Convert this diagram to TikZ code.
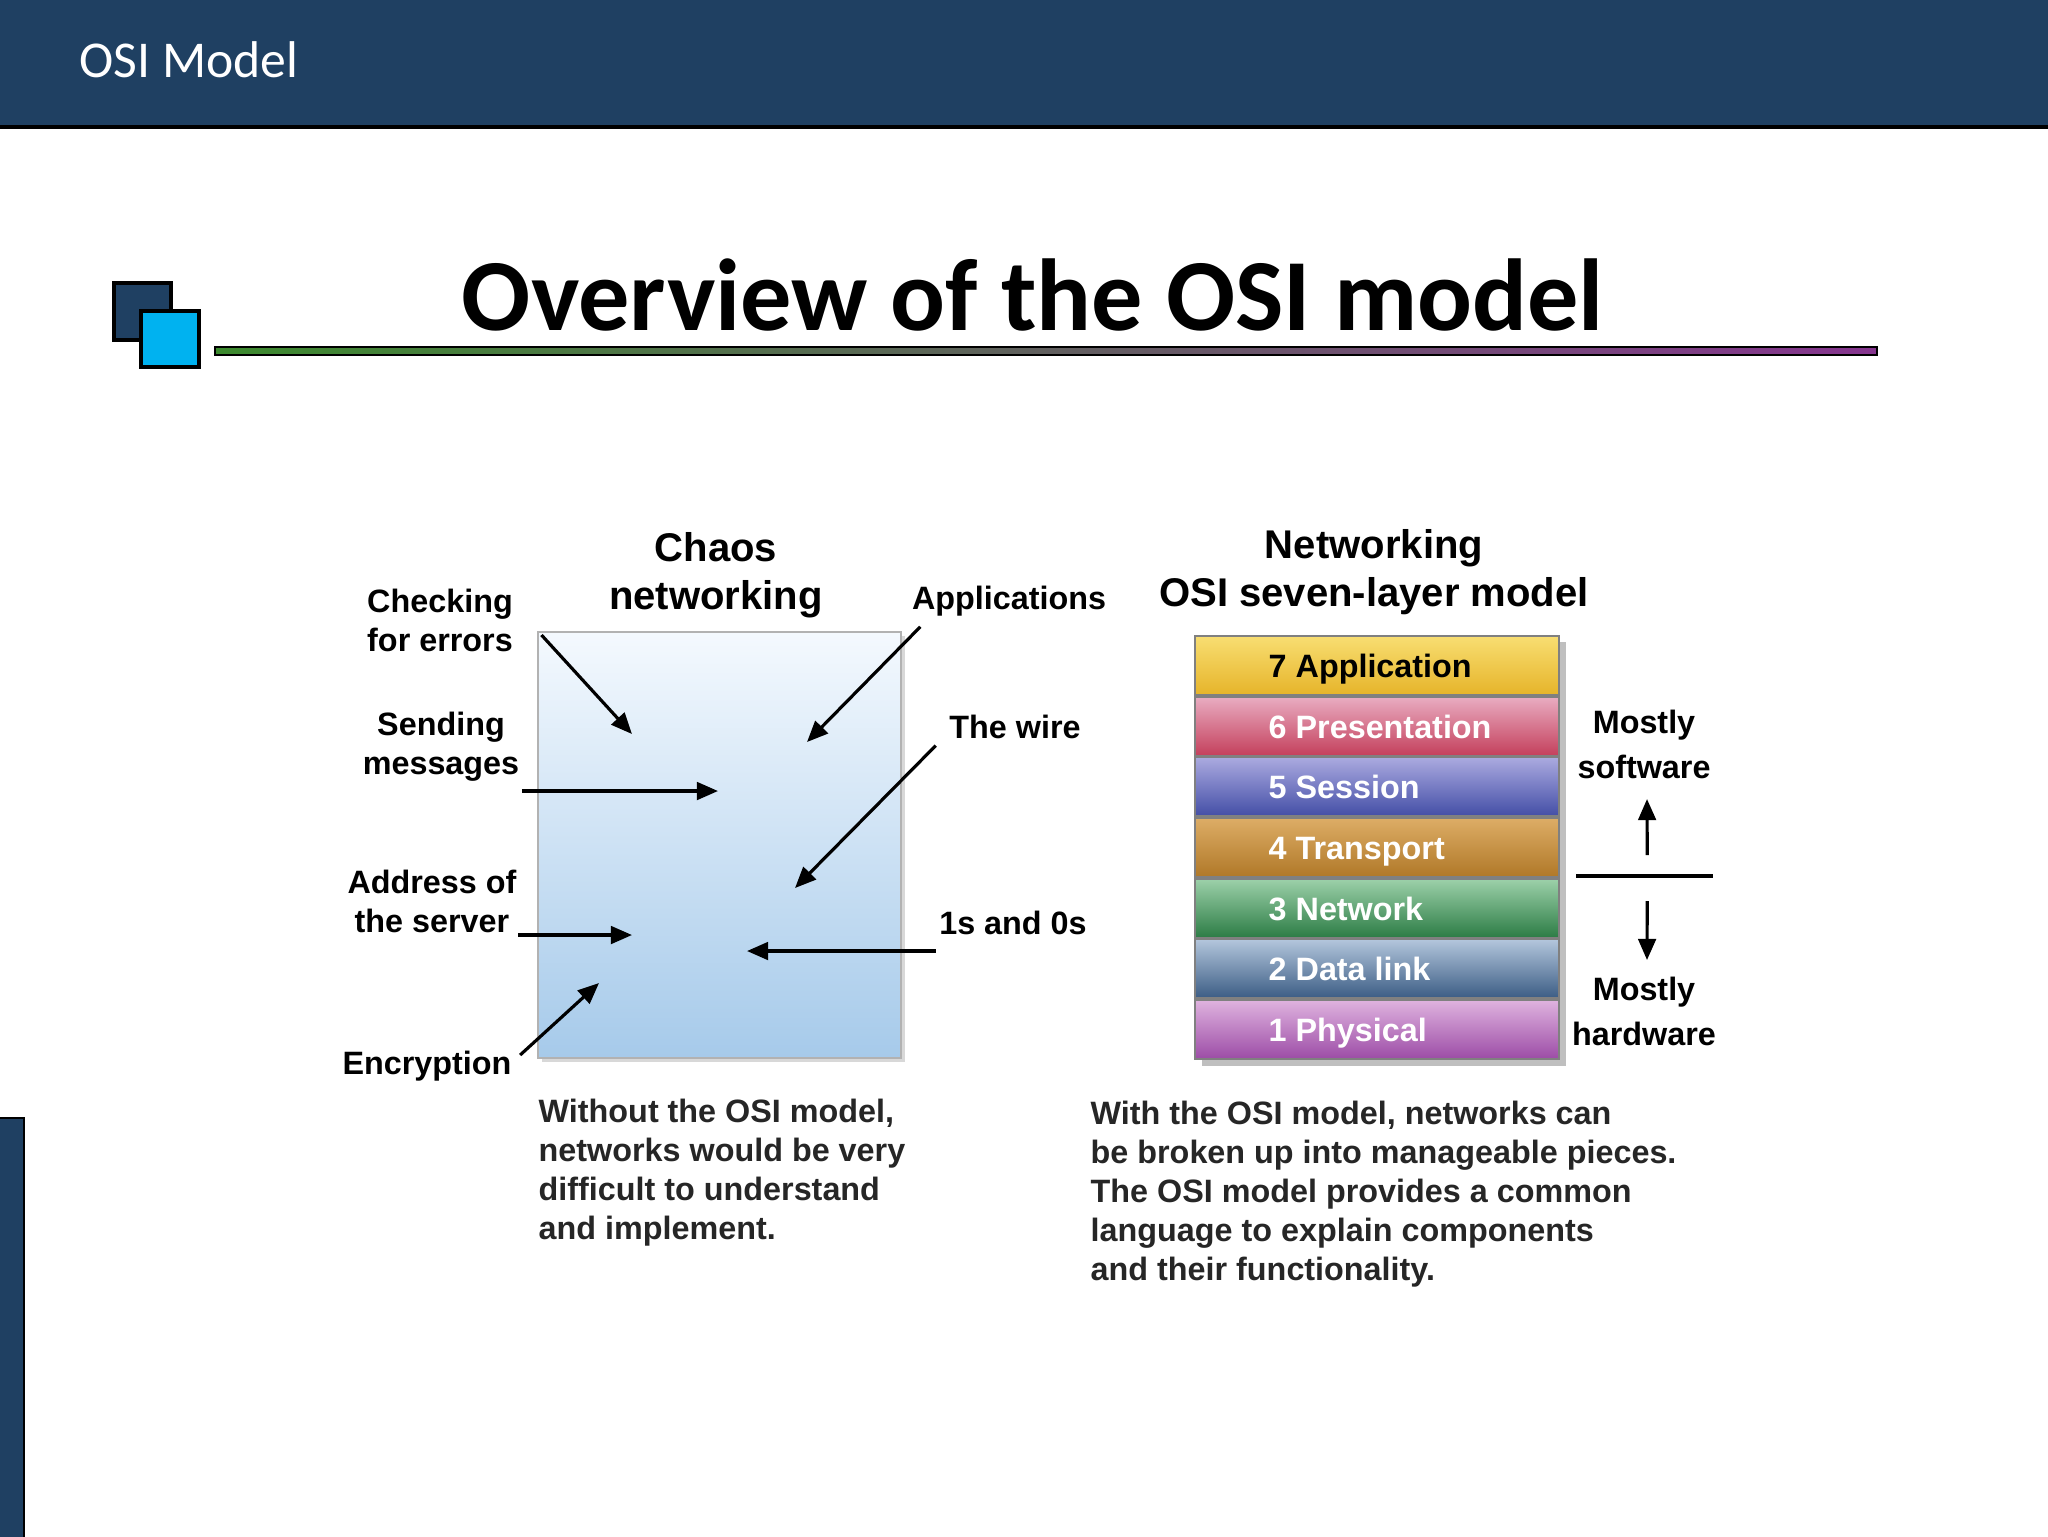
\documentclass[tikz,border=0pt]{standalone}
\usepackage{fontspec}
\setmainfont{Carlito}
\newfontfamily\figfont{Liberation Sans}
\usepackage{tikz}
\usetikzlibrary{positioning,calc,arrows.meta,shadows}

\definecolor{slideblue}{HTML}{1F4062}
\definecolor{iconcyan}{HTML}{00B2F0}
\definecolor{bargreen}{HTML}{3C8A2E}
\definecolor{barpurple}{HTML}{86358F}
\definecolor{boxtop}{HTML}{F4F9FE}
\definecolor{boxbot}{HTML}{A6CAEA}
\definecolor{lay7t}{HTML}{F8DE72}\definecolor{lay7b}{HTML}{E6B42A}
\definecolor{lay6t}{HTML}{E9ADC2}\definecolor{lay6b}{HTML}{C4405C}
\definecolor{lay5t}{HTML}{ABAAE0}\definecolor{lay5b}{HTML}{434EA6}
\definecolor{lay4t}{HTML}{DDAD66}\definecolor{lay4b}{HTML}{B07828}
\definecolor{lay3t}{HTML}{9DD1AA}\definecolor{lay3b}{HTML}{2C7C45}
\definecolor{lay2t}{HTML}{B3C6DC}\definecolor{lay2b}{HTML}{3B5C84}
\definecolor{lay1t}{HTML}{DFB3DF}\definecolor{lay1b}{HTML}{9C4CA6}

\begin{document}
\begin{tikzpicture}[
    x=0.1mm, y=-0.1mm,
    lbl/.style={font=\figfont\bfseries\fontsize{9.2}{11.1}\selectfont, align=center, inner sep=0pt},
    ttl/.style={font=\figfont\bfseries\fontsize{11.4}{13.7}\selectfont, align=center, inner sep=0pt},
    side/.style={lbl, font=\figfont\bfseries\fontsize{9.2}{12.8}\selectfont},
    caption/.style={lbl, align=left, text=black!85},
    chaosbox/.style={rectangle, minimum width=36.3mm, minimum height=42.6mm, top color=boxtop, bottom color=boxbot, draw=gray!60, drop shadow={shadow xshift=1.2pt, shadow yshift=-1.2pt, fill=black!30, opacity=0.5}},
    layer/.style={rectangle, minimum width=36.4mm, minimum height=5.9mm, inner sep=0pt, draw=black!50, line width=0.6pt},
    laytext/.style={lbl, anchor=base west},
    arr/.style={-{Triangle[length=6pt,width=5pt]}, line width=0.9pt}
]
    \useasboundingbox (0,0) rectangle (2048,1536);
    \fill[white] (0,0) rectangle (2048,1536);

    % slide frame
    \filldraw[fill=slideblue, draw=black, line width=1pt] (-5,-5) rectangle (2053,127);
    \node[anchor=west, text=white, inner sep=0pt, font=\fontsize{14.7}{17}\selectfont] (head) at (79,60) {OSI Model};
    \filldraw[fill=slideblue, draw=black, line width=0.8pt] (-5,1118) rectangle (24,1545);
    \filldraw[fill=slideblue, draw=black, line width=1pt] (114,283) rectangle (171,340);
    \filldraw[fill=iconcyan, draw=black, line width=1pt] (141,311) rectangle (199,367);
    \node[anchor=base, inner sep=0pt, font=\bfseries\fontsize{29.1}{34}\selectfont] (title) at (1033,330) {Overview of the OSI model};
    \shade[left color=bargreen, right color=barpurple, draw=black, line width=0.6pt] (215,347) rectangle (1877,355);

    % chaos networking
    \node[chaosbox] (chaos) at (719.5,845) {};
    \node[ttl] (chaosT) at (716,575) {Chaos\\networking};
    \node[lbl] (chk) at (440,620) {Checking\\for errors};
    \node[lbl] (send) at (441,747) {Sending\\messages};
    \node[lbl] (addr) at (432,901) {Address of\\the server};
    \node[lbl] (enc) at (427,1066) {Encryption};
    \node[lbl] (app) at (1009,601) {Applications};
    \node[lbl] (wire) at (1015,727) {The wire};
    \node[lbl] (bits) at (1013,923) {1s and 0s};

    \coordinate (tChk) at (632,734);
    \coordinate (tApp) at (807,742);
    \coordinate (tSend) at (718,791);
    \coordinate (tWire) at (795,888);
    \coordinate (tAddr) at (632,935);
    \coordinate (tBits) at (747,951);
    \coordinate (tEnc) at (599,983);

    \draw[arr] ($(chk.east)+(28,15)$) -- (tChk);
    \draw[arr] ($(app.south west)+(9,10)$) -- (tApp);
    \draw[arr] ($(send.east |- tSend)+(2,0)$) -- (tSend);
    \draw[arr] ($(wire.south west)+(-13,6)$) -- (tWire);
    \draw[arr] ($(addr.east |- tAddr)+(1,0)$) -- (tAddr);
    \draw[arr] ($(bits.west |- tBits)+(-3,0)$) -- (tBits);
    \draw[arr] ($(enc.east)+(8,-11)$) -- (tEnc);

    \node[caption, anchor=north west] (capL) at (538,1098) {Without the OSI model,\\networks would be very\\difficult to understand\\and implement.};

    % seven layers
    \fill[black!25] (1202,642) rectangle (1566,1066);
    \foreach \n/\name/\tcol [count=\k from 0] in {7/Application/black, 6/Presentation/white, 5/Session/white, 4/Transport/white, 3/Network/white, 2/Data link/white, 1/Physical/white} {
        \node[layer, top color=lay\n t, bottom color=lay\n b] (l\n) at (1377,{635+60.7*(\k+0.5)}) {};
        \node[laytext, text=\tcol] (t\n) at ($(l\n.center)+(-109,12)$) {\n\ \name};
    }
    \node[ttl] (osiT) at (1374,572) {Networking\\OSI seven-layer model};

    \node[side] (sw) at (1644,744) {Mostly\\software};
    \node[side] (hw) at (1644,1011) {Mostly\\hardware};
    \coordinate (divL) at (1576,876);
    \coordinate (divR) at (1713,876);
    \coordinate (upTip) at (1647,799);
    \coordinate (downTip) at (1647,960);
    \draw[line width=0.9pt] (divL) -- (divR);
    \draw[arr] ($(divL)!0.52!(divR)+(0,-21)$) -- (upTip);
    \draw[arr] ($(divL)!0.52!(divR)+(0,25)$) -- (downTip);

    \node[caption, anchor=north west] (capR) at (1090,1100) {With the OSI model, networks can\\be broken up into manageable pieces.\\The OSI model provides a common\\language to explain components\\and their functionality.};
\end{tikzpicture}
\end{document}
